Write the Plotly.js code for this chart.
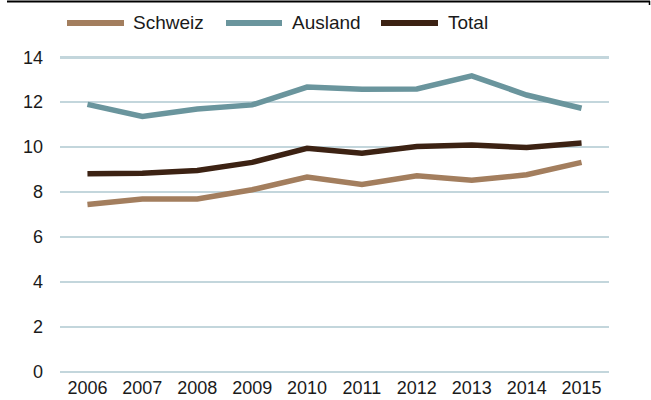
<!DOCTYPE html>
<html>
<head>
<meta charset="utf-8">
<script src="https://cdn.plot.ly/plotly-3.0.1.min.js"></script>
<style>html,body{margin:0;padding:0;background:#fff;}#chart{width:651px;height:400px;}</style>
</head>
<body>
<div id="chart"></div>
<script>
var years = ["2006","2007","2008","2009","2010","2011","2012","2013","2014","2015"];
var schweiz = [7.45, 7.69, 7.69, 8.10, 8.67, 8.34, 8.72, 8.52, 8.77, 9.32];
var ausland = [11.90, 11.36, 11.70, 11.88, 12.67, 12.58, 12.59, 13.17, 12.32, 11.73];
var total = [8.81, 8.84, 8.96, 9.32, 9.95, 9.73, 10.03, 10.09, 9.98, 10.18];
var yTicks = [0, 2, 4, 6, 8, 10, 12, 14];
var seriesNames = ["Schweiz", "Ausland", "Total"];
var seriesColors = ["#A37E5E", "#6A959D", "#3C2213"];

var W = 651, H = 400, L = 60, R = 42, T = 55, B = 26;
var pw = W - L - R, ph = H - T - B;
function px(x){ return (x - L) / pw; }
function py(y){ return (H - B - y) / ph; }

var FONT = 'Liberation Sans, Arial, sans-serif';

var values = [schweiz, ausland, total];
var data = values.map(function(v, i){
  return {x: years, y: v, name: seriesNames[i], type: 'scatter', mode: 'lines',
    line: {color: seriesColors[i], width: 5.5}, hoverinfo: 'skip', showlegend: false};
});

// legend drawn as decoration (positions in pixels)
var legX = [[67, 124, 131], [226, 282, 290], [381, 438, 446]];
var legY = 23;
var shapes = [
  {type: 'line', xref: 'paper', yref: 'paper', x0: px(7), x1: px(650), y0: py(1.5), y1: py(1.5),
    line: {color: '#000', width: 2}},
  {type: 'line', xref: 'paper', yref: 'paper', x0: px(649.5), x1: px(649.5), y0: py(1), y1: py(5),
    line: {color: '#000', width: 1.5}}
];
var annotations = [];
seriesNames.forEach(function(n, i){
  shapes.push({type: 'line', xref: 'paper', yref: 'paper', x0: px(legX[i][0]), x1: px(legX[i][1]),
    y0: py(legY), y1: py(legY), line: {color: seriesColors[i], width: 6}});
  annotations.push({xref: 'paper', yref: 'paper', x: px(legX[i][2]), y: py(legY), text: n,
    showarrow: false, xanchor: 'left', yanchor: 'middle', font: {family: FONT, size: 19, color: '#1a1a1a'}});
});

var layout = {
  width: W, height: H,
  margin: {l: L, r: R, t: T, b: B, pad: 0},
  paper_bgcolor: '#fff', plot_bgcolor: '#fff',
  font: {family: FONT, size: 18, color: '#1a1a1a'},
  showlegend: false,
  xaxis: {type: 'category', range: [-0.5, 9.5], showgrid: false, zeroline: false,
    showline: false, ticks: '', ticklabelstandoff: 1, tickfont: {size: 18}, fixedrange: true, automargin: false},
  yaxis: {range: [-0.1, 14.1], tickvals: yTicks, ticktext: yTicks.map(String),
    showgrid: true, gridcolor: '#C3D6DC', gridwidth: 2.5, zeroline: false, showline: false,
    ticks: '', ticklabelstandoff: 16, tickfont: {size: 18}, fixedrange: true, automargin: false},
  shapes: shapes,
  annotations: annotations
};
Plotly.newPlot('chart', data, layout, {displayModeBar: false, staticPlot: true});
</script>
</body>
</html>
